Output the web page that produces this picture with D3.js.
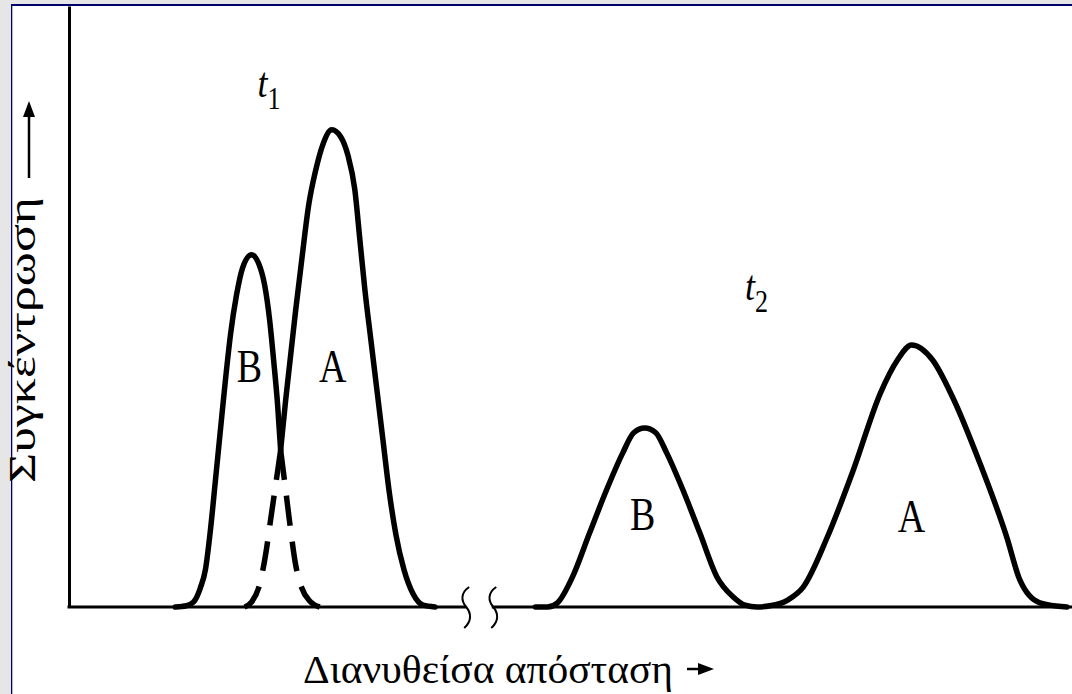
<!DOCTYPE html>
<html>
<head>
<meta charset="utf-8">
<script src="https://cdn.jsdelivr.net/npm/d3@7"></script>
<style>
body { margin: 0; background: #e6e6e6; }
svg { display: block; }
text { font-family: "Liberation Serif", "Tinos", "Times New Roman", "Noto Serif", "FreeSerif", "DejaVu Serif", serif; fill: #000; }
</style>
</head>
<body>
<script>
// traces: [distance, concentration], both 0-100
// t1: B and A overlap, the hidden tails are dashed
var peakB1 = [[10.6, 0], [11.7, 0.2], [12.4, 0.8], [13.1, 3.2], [13.6, 6.2], [14.1, 12.8], [14.6, 21.1],
			  [15.1, 29.5], [15.6, 37.8], [16.1, 45.3], [16.7, 51.9], [17.3, 56.4], [18.2, 58.6],
			  [18.9, 57.2], [19.5, 53.6], [20.0, 47.8], [20.4, 41.1], [20.8, 33.6], [21.1, 26.1]];
var tailB1 = [[21.1, 26.1], [21.6, 19.5], [22.1, 12.8], [22.6, 7.0], [23.2, 3.2], [24.0, 1.0], [25.0, 0]];
var tailA1 = [[17.5, 0], [18.2, 0.8], [19.0, 3.7], [19.6, 8.7], [20.1, 14.5], [20.6, 20.3], [21.1, 26.1]];
var peakA1 = [[21.1, 26.1], [21.6, 34.4], [22.1, 41.9], [22.6, 49.4], [23.2, 57.7], [23.9, 66.9],
			  [24.6, 72.7], [25.3, 76.9], [26.2, 79.4], [27.1, 78.2], [27.8, 75.2], [28.5, 69.4],
			  [29.0, 61.1], [29.5, 52.8], [30.1, 44.4], [30.7, 36.1], [31.3, 27.8], [31.9, 19.5],
			  [32.6, 12.0], [33.4, 6.2], [34.3, 2.2], [35.3, 0.3], [36.5, 0]];

// t2: the two zones are separated
var peakB2 = [[46.5, 0], [47.7, 0], [48.7, 0.7], [50.2, 5.0], [51.9, 12.3], [53.6, 19.5], [55.2, 25.6],
			  [56.3, 29.0], [57.4, 29.8], [58.5, 29.0], [59.6, 25.6], [61.2, 19.5], [62.9, 12.3],
			  [64.6, 5.0], [66.2, 1.7], [67.4, 0.3], [68.6, 0]];
var peakA2 = [[68.6, 0], [69.9, 0.2], [71.7, 1.2], [73.2, 3.3], [75.6, 11.6], [78.2, 22.8], [80.9, 35.6],
			  [82.6, 41.1], [84.0, 43.6], [86.1, 41.1], [88.1, 34.9], [90.8, 24.0], [93.5, 11.6],
			  [94.8, 4.5], [96.8, 0.7], [99.5, 0]];

var peakNames = ["B", "A", "B", "A"];
var peakNameX = [18.0, 26.3, 57.2, 84.0];
var peakNameY = [37.4, 37.4, 12.8, 12.5];

var timeNames = ["1", "2"];
var timeX = [18.8, 67.4];
var timeY = [84.8, 51.1];

var axisBreak = [39.6, 42.3];

var xTitle = "Διανυθείσα απόσταση";
var yTitle = "Συγκέντρωση";

var width = 1072,
	height = 694;

var svg = d3.select("body").append("svg")
	.attr("width", width)
	.attr("height", height);

// slide frame
svg.append("rect")
	.attr("x", 12).attr("y", 6)
	.attr("width", width - 12).attr("height", height - 6)
	.attr("fill", "#fff");
svg.append("rect")
	.attr("x", 11).attr("y", 4)
	.attr("width", width - 11).attr("height", 2)
	.attr("fill", "#00006b");
svg.append("rect")
	.attr("x", 11).attr("y", 4)
	.attr("width", 1.3).attr("height", height - 4)
	.attr("fill", "#00006b");

var x = d3.scaleLinear().domain([0, 100]).range([69, 1072]);
var y = d3.scaleLinear().domain([0, 100]).range([607, 6]);

// y axis, no ticks
svg.append("g")
	.attr("transform", "translate(" + x(0) + ",0)")
	.call(d3.axisLeft(y).tickValues([]).tickSizeOuter(0))
	.select(".domain")
	.attr("stroke", "#000")
	.attr("stroke-width", 3);

// baseline, interrupted at the break
var baseSegments = [[0, axisBreak[0]], [axisBreak[1], 100]];
svg.append("g")
	.selectAll("line")
	.data(baseSegments)
	.enter().append("line")
	.attr("x1", function(d) { return x(d[0]) - 1.5; })
	.attr("x2", function(d) { return x(d[1]); })
	.attr("y1", y(0))
	.attr("y2", y(0))
	.attr("stroke", "#000")
	.attr("stroke-width", 3);

svg.append("g")
	.selectAll("path")
	.data(axisBreak)
	.enter().append("path")
	.attr("transform", function(d) { return "translate(" + x(d) + "," + y(0) + ")"; })
	.attr("d", "M3,-20 C-6,-14 -5,-6 0,0 C5,6 6,14 -2,21")
	.attr("fill", "none")
	.attr("stroke", "#000")
	.attr("stroke-width", 2);

var line = d3.line()
	.x(function(d) { return x(d[0]); })
	.y(function(d) { return y(d[1]); })
	.curve(d3.curveMonotoneX);

var solid = [peakB1, peakA1, peakB2.concat(peakA2.slice(1))];
svg.append("g")
	.selectAll("path")
	.data(solid)
	.enter().append("path")
	.attr("d", line)
	.attr("fill", "none")
	.attr("stroke", "#000")
	.attr("stroke-width", 5.5)
	.attr("stroke-linejoin", "round")
	.attr("stroke-linecap", "round");

// dashed tails start at the crossing point
var dashed = [tailB1, tailA1.slice().reverse()];
svg.append("g")
	.selectAll("path")
	.data(dashed)
	.enter().append("path")
	.attr("d", line)
	.attr("fill", "none")
	.attr("stroke", "#000")
	.attr("stroke-width", 5.5)
	.attr("stroke-dasharray", "30,16");

var stretch = 1.2;

svg.append("g")
	.selectAll("text")
	.data(peakNames)
	.enter().append("text")
	.attr("transform", function(d, i) {
		return "translate(" + x(peakNameX[i]) + "," + y(peakNameY[i]) + ") scale(1," + stretch + ")";
	})
	.attr("text-anchor", "middle")
	.attr("font-size", 38)
	.text(function(d) { return d; });

var tLabel = svg.append("g")
	.selectAll("text")
	.data(timeNames)
	.enter().append("text")
	.attr("transform", function(d, i) {
		return "translate(" + x(timeX[i]) + "," + y(timeY[i]) + ") scale(1," + stretch + ")";
	});
tLabel.append("tspan")
	.attr("font-style", "italic")
	.attr("font-size", 36)
	.text("t");
tLabel.append("tspan")
	.attr("font-size", 26)
	.attr("dy", 10)
	.text(function(d) { return d; });

// axis titles with arrows, fitted to the span they take in the figure
svg.append("text")
	.attr("transform", "translate(303,683) scale(1,1.05)")
	.attr("font-size", 38)
	.attr("textLength", 370)
	.attr("lengthAdjust", "spacingAndGlyphs")
	.text(xTitle);
svg.append("line")
	.attr("x1", 687).attr("x2", 700)
	.attr("y1", 669).attr("y2", 669)
	.attr("stroke", "#000")
	.attr("stroke-width", 2.5);
svg.append("path")
	.attr("d", "M714,669 L698,663 L698,675 Z")
	.attr("fill", "#000");

svg.append("text")
	.attr("transform", "translate(35,483) rotate(-90)")
	.attr("font-size", 38)
	.attr("textLength", 286)
	.attr("lengthAdjust", "spacingAndGlyphs")
	.text(yTitle);
svg.append("line")
	.attr("x1", 29).attr("x2", 29)
	.attr("y1", 178).attr("y2", 114)
	.attr("stroke", "#000")
	.attr("stroke-width", 2.5);
svg.append("path")
	.attr("d", "M29,101 L23,117 L35,117 Z")
	.attr("fill", "#000");
</script>
</body>
</html>
